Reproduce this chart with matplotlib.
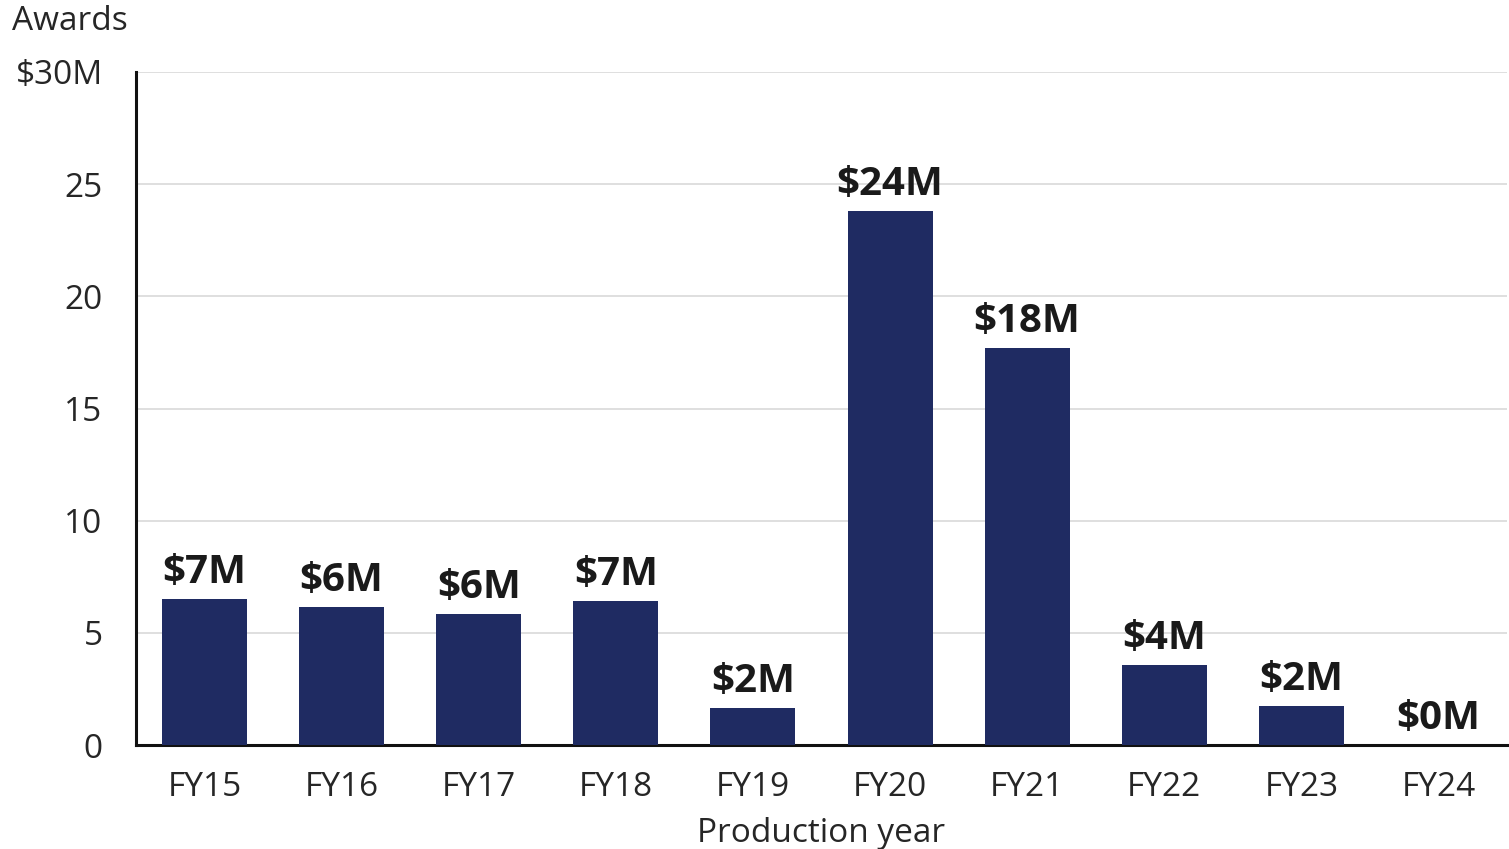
import matplotlib
matplotlib.use("Agg")
import matplotlib.pyplot as plt

categories = ["FY15", "FY16", "FY17", "FY18", "FY19", "FY20", "FY21", "FY22", "FY23", "FY24"]
values = [6.5, 6.15, 5.85, 6.4, 1.65, 23.8, 17.7, 3.55, 1.75, 0.0]
labels = ["$7M", "$6M", "$6M", "$7M", "$2M", "$24M", "$18M", "$4M", "$2M", "$0M"]
yticks = [0, 5, 10, 15, 20, 25, 30]
ytick_labels = ["0", "5", "10", "15", "20", "25", "$30M"]

FONT = "Open Sans"
bar_color = "#1f2b62"
text_color = "#262626"

fig = plt.figure(figsize=(15.09, 8.49), dpi=100)
ax = fig.add_axes([136/1509, 1 - 745/849, (1507-136)/1509, (745-72)/849])

x = list(range(len(categories)))
ax.bar(x, values, width=0.62, color=bar_color, zorder=3)

for xi, v, lab in zip(x, values, labels):
    ax.annotate(lab, (xi, v), xytext=(0, 5), textcoords="offset points",
                ha="center", va="bottom", fontsize=29, fontweight="bold",
                family=FONT, color="#1a1a1a")

ax.set_xlim(-0.5, 9.5)
ax.set_ylim(0, 30)
ax.set_yticks(yticks)
ax.set_yticklabels(ytick_labels, family=FONT, fontsize=24, color=text_color)
ax.set_xticks(x)
ax.set_xticklabels(categories, family=FONT, fontsize=24, color=text_color)
ax.tick_params(axis="both", length=0)
ax.tick_params(axis="y", pad=24)
ax.tick_params(axis="x", pad=19)
ax.yaxis.grid(True, color="#d9d9d9", linewidth=1.2, zorder=0)
ax.set_axisbelow(True)
for s in ["top", "right"]:
    ax.spines[s].set_visible(False)
for s in ["left", "bottom"]:
    ax.spines[s].set_linewidth(2.2)
    ax.spines[s].set_color("#111111")

ax.set_xlabel("Production year", family=FONT, fontsize=24, color=text_color, labelpad=9)
fig.text(12/1509, 1 - 22/849, "Awards", family=FONT, fontsize=24, color=text_color,
         ha="left", va="center")

fig.savefig("out.png", dpi=100)
